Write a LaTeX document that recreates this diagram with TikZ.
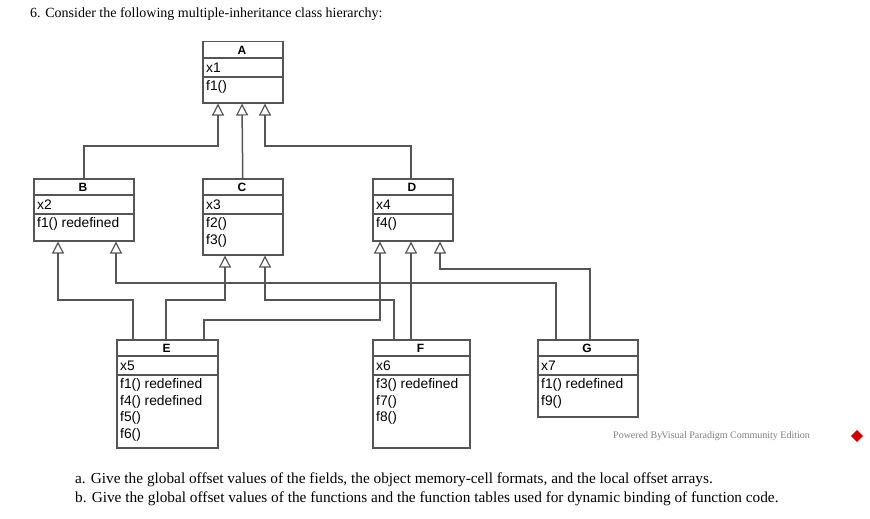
\documentclass[tikz,border=0pt]{standalone}
\usepackage{fontspec}
\setmainfont{Liberation Serif}
\newfontfamily\arialf{Liberation Sans}
\usetikzlibrary{arrows.meta,calc}
\definecolor{ln}{RGB}{85,85,85}
\begin{document}
\begin{tikzpicture}[x=1pt,y=-1pt,
  box/.style={draw=ln,line width=1.5pt,fill=white,anchor=north west,inner sep=0pt},
  sep/.style={draw=ln,line width=1.5pt},
  hd/.style={font=\arialf\fontsize{12}{13}\selectfont\bfseries,inner sep=0pt},
  tx/.style={font=\arialf\fontsize{13.8}{16.5}\selectfont,align=left,anchor=base west,inner sep=0pt},
  inh/.style={draw=ln,line width=1.5pt,-{Triangle[open,width=12pt,length=12pt,line width=1.2pt]}},
  body/.style={font=\fontsize{15.3}{17}\selectfont,anchor=base west,inner sep=0pt}]
\useasboundingbox (0,0) rectangle (870,519);
\newcommand\umlbox[9]{% name x y w h title attr methods hdrh
  \node[box,minimum width=#4pt,minimum height=#5pt] (#1) at (#2,#3) {};
  \draw[sep] (#2,#3+17) -- (#2+#4,#3+17);
  \draw[sep] (#2,#3+36) -- (#2+#4,#3+36);
  \node[hd] (#1t) at (#2+#4/2,#3+9) {#6};
  \node[tx] (#1a) at (#2+4,#3+31.5) {#7};
  \node[tx,anchor=north west] (#1m) at (#2+4,#3+39.5) {#8};
}
\node[font=\fontsize{14}{16}\selectfont,anchor=base west,inner sep=0pt] (title) at (30,18) {6. Consider the following multiple-inheritance class hierarchy:};
\umlbox{A}{202}{41}{80}{61}{A}{x1}{f1()}{}
\umlbox{B}{33}{178}{100}{62}{B}{x2}{f1() redefined}{}
\umlbox{C}{202}{178}{80}{76}{C}{x3}{f2()\\f3()}{}
\umlbox{D}{372}{178}{80}{62}{D}{x4}{f4()}{}
\umlbox{E}{116}{339}{101}{108}{E}{x5}{f1() redefined\\f4() redefined\\f5()\\f6()}{}
\umlbox{F}{372}{339}{97}{108}{F}{x6}{f3() redefined\\f7()\\f8()}{}
\umlbox{G}{537}{339}{100}{77}{G}{x7}{f1() redefined\\f9()}{}
% A parents
\draw[inh] (B.north) |- (218,146) -- ($(A.south west)+(16,0)$);
\draw[inh] (C.north) -- ($(A.south west)+(40,0)$);
\draw[inh] ($(D.north west)+(39,0)$) |- (265,146) -- ($(A.south west)+(63,0)$);
% E
\draw[inh] ($(E.north west)+(17,0)$) |- (58,300) -- ($(B.south west)+(25,0)$);
\draw[inh] ($(E.north west)+(50,0)$) |- (225,300) -- ($(C.south west)+(23,0)$);
\draw[inh] ($(E.north west)+(88,0)$) |- (380,320) -- ($(D.south west)+(8,0)$);
% F
\draw[inh] ($(F.north west)+(22,0)$) |- (265,300) -- ($(C.south west)+(63,0)$);
\draw[inh] ($(F.north west)+(39,0)$) -- ($(D.south west)+(39,0)$);
% G
\draw[inh] ($(G.north west)+(19,0)$) |- (116,283) -- ($(B.south west)+(83,0)$);
\draw[inh] ($(G.north west)+(53,0)$) |- (440,269) -- ($(D.south west)+(68,0)$);
% watermark
\node[font=\fontsize{10}{11}\selectfont,text=gray,anchor=west,inner sep=0pt] (wm) at (613,436) {Powered By\hspace{-1pt}Visual Paradigm Community Edition};
\node[fill=red!80!black,draw=red!80!black,minimum size=8pt,inner sep=0pt,rotate=45] (logo) at (857,436) {};
\node[body] (qa) at (75,483) {a. Give the global offset values of the fields, the object memory-cell formats, and the local offset arrays.};
\node[body] (qb) at (75,502) {b. Give the global offset values of the functions and the function tables used for dynamic binding of function code.};
\end{tikzpicture}
\end{document}
